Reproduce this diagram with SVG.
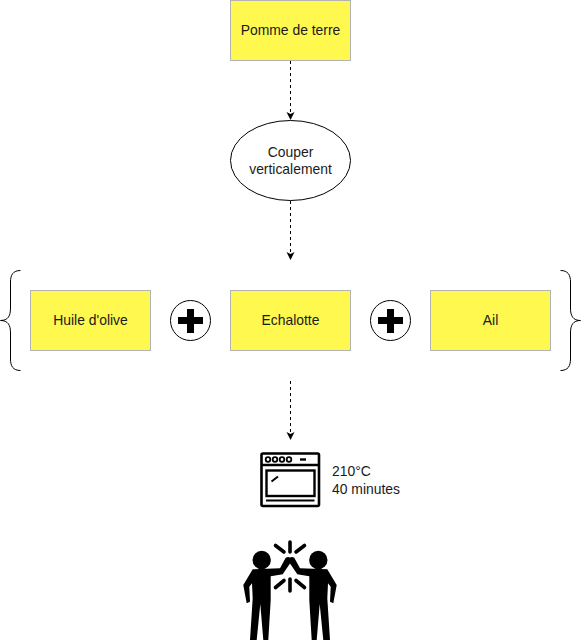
<svg xmlns="http://www.w3.org/2000/svg" width="581" height="641" viewBox="0 0 581 641">
<style>
text{font-family:"Liberation Sans",Arial,sans-serif;font-size:13.9px;fill:#1a1a1a;text-anchor:middle}
.box{fill:#fff84f;stroke:#b3b3b3;stroke-width:1}
.conn{fill:none;stroke:#000;stroke-width:1;stroke-dasharray:3 3}
.brace{fill:none;stroke:#000;stroke-width:1}
.plus{fill:#fff;stroke:#000;stroke-width:1}
.ovl{fill:none;stroke:#000;stroke-width:2.6}
.ic{fill:#000;stroke:none}
.ray{stroke:#000;stroke-width:3.6;stroke-linecap:round;fill:none}
</style>
<defs>
<marker id="arr" markerUnits="userSpaceOnUse" markerWidth="10" markerHeight="10" refX="7" refY="4" orient="auto">
<path d="M0 0L8 4L0 8L2 4Z" fill="#000"/>
</marker>
</defs>
<g id="connectors">
<path class="conn" d="M290.5 61V119" marker-end="url(#arr)"/>
<path class="conn" d="M290.5 201V259" marker-end="url(#arr)"/>
<path class="conn" d="M290.5 381V439" marker-end="url(#arr)"/>
</g>
<g id="pomme"><rect class="box" x="230.5" y="0.5" width="120" height="60"/><text x="290.500" y="35">Pomme de terre</text></g>
<g id="couper"><ellipse cx="290.500" cy="160.500" rx="60" ry="40" fill="#fff" stroke="#000"/><text x="290.500" y="157">Couper</text><text x="290.500" y="174">verticalement</text></g>
<g id="huile"><rect class="box" x="30.500" y="290.500" width="120" height="60"/><text x="90.500" y="325">Huile d'olive</text></g>
<g id="echalotte"><rect class="box" x="230.500" y="290.500" width="120" height="60"/><text x="290.500" y="325">Echalotte</text></g>
<g id="ail"><rect class="box" x="430.500" y="290.500" width="120" height="60"/><text x="490.500" y="325">Ail</text></g>
<g id="plus1"><circle class="plus" cx="190.500" cy="320.500" r="20"/><path class="ic" d="M187 309H194V317H203V324H194V333H187V324H178V317H187Z"/></g>
<g id="plus2"><circle class="plus" cx="390.500" cy="320.500" r="20"/><path class="ic" d="M387 309H394V317H403V324H394V333H387V324H378V317H387Z"/></g>
<g id="brace-left"><path class="brace" d="M20.500 270.500C13 270.500 10.500 275 10.500 282V308C10.500 316 8 320.500 0.500 320.500C8 320.500 10.500 325 10.500 333V359C10.500 366 13 370.500 20.500 370.500"/></g>
<g id="brace-right"><path class="brace" d="M560.500 270.500C568 270.500 570.500 275 570.500 282V308C570.500 316 573 320.500 580.500 320.500C573 320.500 570.500 325 570.500 333V359C570.500 366 568 370.500 560.500 370.500"/></g>
<g id="four">
<rect class="ovl" x="261.500" y="453.500" width="57.500" height="52.500" rx="1.500"/>
<path class="ovl" d="M261.500 465H319"/>
<rect x="266.500" y="470.500" width="48" height="25.500" fill="none" stroke="#000" stroke-width="2.400"/>
<path d="M266 500.500H314.500" stroke="#000" stroke-width="2" fill="none"/>
<path d="M271.500 481.500L278 476.500" stroke="#000" stroke-width="2" fill="none"/>
<g fill="none" stroke="#000" stroke-width="1.800"><circle cx="268" cy="459.500" r="2.300"/><circle cx="275" cy="459.500" r="2.300"/><circle cx="282" cy="459.500" r="2.300"/><circle cx="289" cy="459.500" r="2.300"/></g>
<path d="M300 459.500H306" stroke="#000" stroke-width="2.400"/>
<text x="332" y="476" style="text-anchor:start">210°C</text>
<text x="332" y="494" style="text-anchor:start">40 minutes</text>
</g>
<g id="personnes">
<circle class="ic" cx="261.700" cy="560" r="9.200"/>
<circle class="ic" cx="318.300" cy="560" r="9.200"/>
<path class="ic" d="M252.700 569.300L280 568.300L285.700 557.700Q288 556.500 290 557.500L290 563.500L282.700 574.300L270.700 576.300L270.700 600L268.300 640H263.300L260.300 604L256.700 640H250L252.700 598.300L252 583.300L249.300 586.700L250 601.700L246.700 603.300L243.300 585Z"/>
<path class="ic" d="M327.300 569.300L300 568.300L294.300 557.700Q292 556.500 290 557.500L290 563.500L297.300 574.300L309.300 576.300L309.300 600L311.700 640H316.700L319.700 604L323.300 640H330L327.300 598.300L328 583.300L330.700 586.700L330 601.700L333.300 603.300L336.700 585Z"/>
<path class="ray" d="M290 542V552M275.500 545.500L284 552M304.500 545.500L296 552M290 579V591M275.500 587.500L284 580.500M304.500 587.500L296 580.500"/>
</g>
</svg>
